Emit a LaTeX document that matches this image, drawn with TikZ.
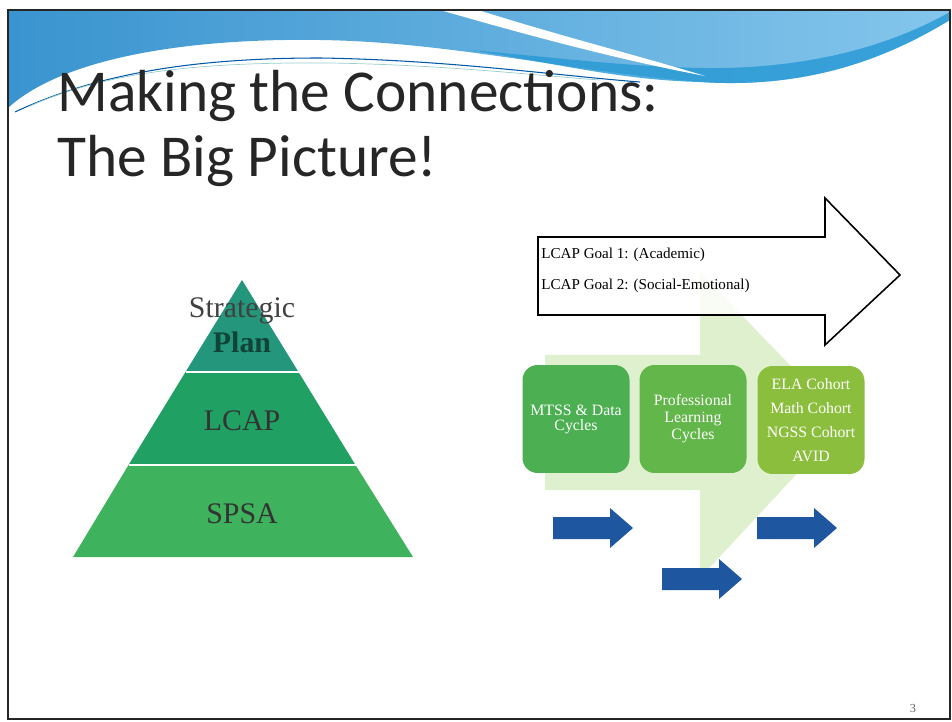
\documentclass[tikz,border=0pt]{standalone}
\usepackage{fontspec}
\setmainfont{Liberation Serif}
\newfontfamily\titlefont{Carlito}
\usepackage{tikz}

\definecolor{bannerA}{RGB}{58,148,207}
\definecolor{bannerB}{RGB}{132,198,236}
\definecolor{bannerC}{RGB}{38,152,212}
\definecolor{tierTop}{RGB}{36,150,124}
\definecolor{tierMid}{RGB}{33,160,100}
\definecolor{tierLow}{RGB}{62,178,92}
\definecolor{boxA}{RGB}{76,176,82}
\definecolor{boxB}{RGB}{98,182,74}
\definecolor{boxC}{RGB}{140,190,62}
\definecolor{bgGreen}{RGB}{222,240,206}
\definecolor{arrowBlue}{RGB}{30,86,160}
\definecolor{titleGray}{RGB}{38,38,38}

\begin{document}
\begin{tikzpicture}[x=0.02cm,y=-0.02cm,
  goalbox/.style={rounded corners=0.3cm,minimum width=2.14cm,minimum height=2.16cm,
    inner sep=0pt,align=center,text=white}]
\useasboundingbox (0,0) rectangle (952,722);

\shade[left color=bannerA,right color=bannerB] (8,10) -- (950,10) -- (950,20)
  .. controls (900,50) and (820,90) .. (700,82)
  .. controls (560,70) and (450,42) .. (320,40)
  .. controls (180,38) and (60,60) .. (8,108) -- cycle;
\fill[bannerC,opacity=0.8] (470,50) .. controls (560,64) and (620,80) .. (700,82)
  .. controls (820,90) and (900,50) .. (950,20) -- (950,12)
  .. controls (900,40) and (820,70) .. (700,68)
  .. controls (620,66) and (560,58) .. (470,50) -- cycle;
\fill[white] (440,10) -- (478,10) .. controls (560,36) and (640,56) .. (705,76)
  .. controls (620,60) and (530,36) .. (440,10) -- cycle;
\draw[teal!70!blue,line width=0.6pt] (15,112) .. controls (100,72) and (200,58) .. (320,58)
  .. controls (450,60) and (560,76) .. (640,82);
\draw[teal!40,line width=0.4pt] (30,106) .. controls (110,70) and (210,62) .. (330,63)
  .. controls (450,65) and (540,76) .. (600,80);

\draw[black!85,line width=1.2pt] (8,10) rectangle (950,719);

\node[anchor=base west,inner sep=0pt,text=titleGray,font=\titlefont\fontsize{33.8}{40}\selectfont] (title1) at (57,112) {Making the Connections:};
\node[anchor=base west,inner sep=0pt,text=titleGray,font=\titlefont\fontsize{33.8}{40}\selectfont] (title2) at (57,177) {The Big Picture!};

% pyramid
\fill[tierLow] (73,557) -- (413,557) -- (355.5,465) -- (128.5,465) -- cycle;
\fill[tierMid] (128.5,465) -- (355.5,465) -- (298.5,372) -- (185.5,372) -- cycle;
\fill[tierTop] (185.5,372) -- (298.5,372) -- (242,280) -- cycle;
\draw[white,line width=1.2pt] (185.5,372) -- (298.5,372);
\draw[white,line width=1.2pt] (128.5,465) -- (355.5,465);

\node[anchor=base,text=black!75,font=\fontsize{17}{17}\selectfont] (strategic) at (242,317) {Strategic};
\node[anchor=base,text=tierTop!45!black,font=\bfseries\fontsize{17}{17}\selectfont] (plan) at (242,353) {Plan};
\node[anchor=base,text=black!80,font=\fontsize{17}{17}\selectfont] (lcap) at (242,430) {LCAP};
\node[anchor=base,text=black!80,font=\fontsize{17}{17}\selectfont] (spsa) at (242,523) {SPSA};

% process
\fill[bgGreen] (545,355) -- (700,355) -- (700,272) -- (845,422) -- (700,578) -- (700,490) -- (545,490) -- cycle;
\draw[line width=0.9pt,fill=white,fill opacity=0.8] (538,237) -- (825,237) -- (825,198) -- (900,275)
  -- (825,345) -- (825,315) -- (538,315) -- cycle;
\node[anchor=base west,inner sep=0pt,font=\fontsize{8.6}{10}\selectfont] (goal1) at (541,259) {LCAP Goal 1: (Academic)};
\node[anchor=base west,inner sep=0pt,font=\fontsize{8.6}{10}\selectfont] (goal2) at (541,290) {LCAP Goal 2: (Social-Emotional)};

\node[goalbox,fill=boxA,font=\fontsize{9}{8.5}\selectfont] (mtss) at (576,419) {MTSS \& Data\\Cycles};
\node[goalbox,fill=boxB,font=\fontsize{9}{9.7}\selectfont] (profl) at (693,419) {Professional\\Learning\\Cycles};
\node[goalbox,fill=boxC,font=\fontsize{9}{13.6}\selectfont] (cohort) at (811,420) {ELA Cohort\\Math Cohort\\NGSS Cohort\\AVID};

\foreach \x/\y in {553/517, 662/568, 757/517}
  \fill[arrowBlue] (\x,\y) -- ++(57,0) -- ++(0,-9) -- ++(23,20) -- ++(-23,20) -- ++(0,-9) -- ++(-57,0) -- cycle;

\node[text=black!60,font=\fontsize{7}{7}\selectfont] (pagenum) at (913,708) {3};

\end{tikzpicture}
\end{document}
